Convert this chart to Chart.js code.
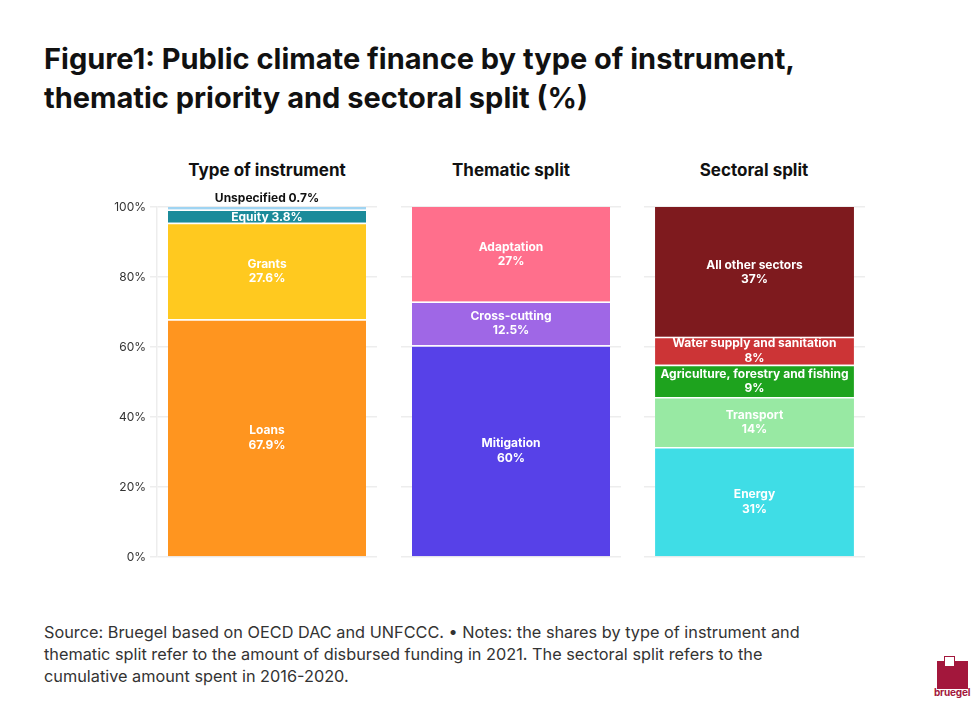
<!DOCTYPE html>
<html>
<head>
<meta charset="utf-8">
<script src="https://cdn.jsdelivr.net/npm/chart.js@4"></script>
<style>
  body { margin: 0; background: #fff; font-family: Inter, 'Noto Sans', sans-serif; color: #111; }
  #page { position: relative; width: 980px; height: 708px; overflow: hidden; }
  h1 { position: absolute; left: 44px; top: 39px; margin: 0; font-size: 29px; line-height: 39px; font-weight: 700; }
  .ptitle { position: absolute; top: 160px; width: 240px; text-align: center; font-size: 17px; font-weight: 700; }
  .box { position: absolute; top: 190px; height: 380px; }
  #foot { position: absolute; left: 44px; top: 621px; font-size: 16.3px; line-height: 22px; color: #333; }
  .logo { position: absolute; background: #a3173c; }
</style>
</head>
<body>
<div id="page">
  <h1>Figure1: Public climate finance by type of instrument,<br>thematic priority and sectoral split (%)</h1>

  <div class="ptitle" style="left:147px">Type of instrument</div>
  <div class="ptitle" style="left:391px">Thematic split</div>
  <div class="ptitle" style="left:634px">Sectoral split</div>

  <div class="box" style="left:100px;width:277px"><canvas id="instrumentChart"></canvas></div>
  <div class="box" style="left:401px;width:220px"><canvas id="thematicChart"></canvas></div>
  <div class="box" style="left:644px;width:221px"><canvas id="sectorChart"></canvas></div>

  <div id="foot">Source: Bruegel based on OECD DAC and UNFCCC. &bull; Notes: the shares by type of instrument and<br>thematic split refer to the amount of disbursed funding in 2021. The sectoral split refers to the<br>cumulative amount spent in 2016-2020.</div>

  <div class="logo" style="left:937px;top:661px;width:31px;height:28px"></div>
  <div style="position:absolute;left:944px;top:656px;width:9px;height:9px;background:#fff;border:1.5px solid #a3173c"></div>
  <div style="position:absolute;left:934px;top:686px;font-size:10px;font-weight:700;color:#a3173c;letter-spacing:-0.2px">bruegel</div>
</div>

<script>
'use strict';

// Type of instrument (bottom to top)
const instrumentNames = ['Loans', 'Grants', 'Equity', 'Unspecified'];
const instrumentValues = [67.9, 27.6, 3.8, 0.7];
const instrumentText = ['67.9%', '27.6%', '3.8%', '0.7%'];

// Thematic split (bottom to top)
const thematicNames = ['Mitigation', 'Cross-cutting', 'Adaptation'];
const thematicValues = [60.5, 12.5, 27];
const thematicText = ['60%', '12.5%', '27%'];

// Sectoral split (bottom to top)
const sectorNames = ['Energy', 'Transport', 'Agriculture, forestry and fishing', 'Water supply and sanitation', 'All other sectors'];
const sectorValues = [31.4, 14.3, 9.2, 8, 37.1];
const sectorText = ['31%', '14%', '9%', '8%', '37%'];

const yTicks = [0, 20, 40, 60, 80, 100];

const INSTRUMENT_COLORS = ['#ff951f', '#ffc91f', '#1b8b9a', '#9fd4f2'];
const THEMATIC_COLORS = ['#5741e8', '#9f67e6', '#ff6f8c'];
const SECTOR_COLORS = ['#3fdde6', '#98e9a3', '#1ea31e', '#cc3436', '#7e1a1e'];
const GRID = '#ededed';

const segmentLabels = {
  id: 'segmentLabels',
  afterDatasetsDraw(chart) {
    const ctx = chart.ctx;
    ctx.save();
    ctx.textAlign = 'center';
    ctx.textBaseline = 'middle';
    ctx.font = 'bold 12px Inter, "Noto Sans", sans-serif';
    chart.data.datasets.forEach((ds, i) => {
      const bar = chart.getDatasetMeta(i).data[0];
      if (!bar) return;
      if (ds.inline) {
        ctx.fillStyle = '#fff';
        ctx.fillText(ds.label + ' ' + ds.text, bar.x, (bar.y + bar.base) / 2 + 1);
      } else if (ds.outside) {
        ctx.fillStyle = '#111';
        ctx.fillText(ds.label + ' ' + ds.text, bar.x, bar.y - 9);
      } else {
        const cy = (bar.y + bar.base) / 2;
        ctx.fillStyle = '#fff';
        ctx.fillText(ds.label, bar.x, cy - 7);
        ctx.fillText(ds.text, bar.x, cy + 7.5);
      }
    });
    ctx.restore();
  }
};

function buildDatasets(names, values, texts, colors) {
  return names.map((n, i) => ({
    label: n,
    data: [values[i]],
    text: texts[i],
    backgroundColor: colors[i],
    borderColor: '#ffffff',
    borderWidth: { top: i === names.length - 1 ? 0 : 1.5 },
    borderSkipped: false,
  }));
}

function makeChart(id, datasets, showTicks) {
  new Chart(document.getElementById(id), {
    type: 'bar',
    data: { labels: [''], datasets },
    options: {
      responsive: true,
      maintainAspectRatio: false,
      animation: false,
      layout: { padding: { top: 17, bottom: 13, left: 0, right: 0 } },
      plugins: { legend: { display: false }, tooltip: { enabled: false } },
      datasets: { bar: { barPercentage: 0.9, categoryPercentage: 1 } },
      scales: {
        x: { stacked: true, display: false },
        y: {
          stacked: true,
          min: 0,
          max: 100,
          afterBuildTicks: s => { s.ticks = yTicks.map(v => ({ value: v })); },
          afterFit: s => { s.width = showTicks ? 57 : 0; },
          ticks: {
            display: showTicks,
            color: '#333',
            font: { family: 'Inter, "Noto Sans", sans-serif', size: 12 },
            padding: 4,
            callback: v => v + '%',
          },
          grid: { color: GRID, lineWidth: 1.5, drawTicks: showTicks, tickLength: 7 },
          border: { display: showTicks, color: GRID, width: 1.5 },
        },
      },
    },
    plugins: [segmentLabels],
  });
}

document.addEventListener('DOMContentLoaded', () => {
  const inst = buildDatasets(instrumentNames, instrumentValues, instrumentText, INSTRUMENT_COLORS);
  inst[2].inline = true;
  inst[3].outside = true;
  makeChart('instrumentChart', inst, true);

  makeChart('thematicChart', buildDatasets(thematicNames, thematicValues, thematicText, THEMATIC_COLORS), false);
  makeChart('sectorChart', buildDatasets(sectorNames, sectorValues, sectorText, SECTOR_COLORS), false);
});
</script>
</body>
</html>
